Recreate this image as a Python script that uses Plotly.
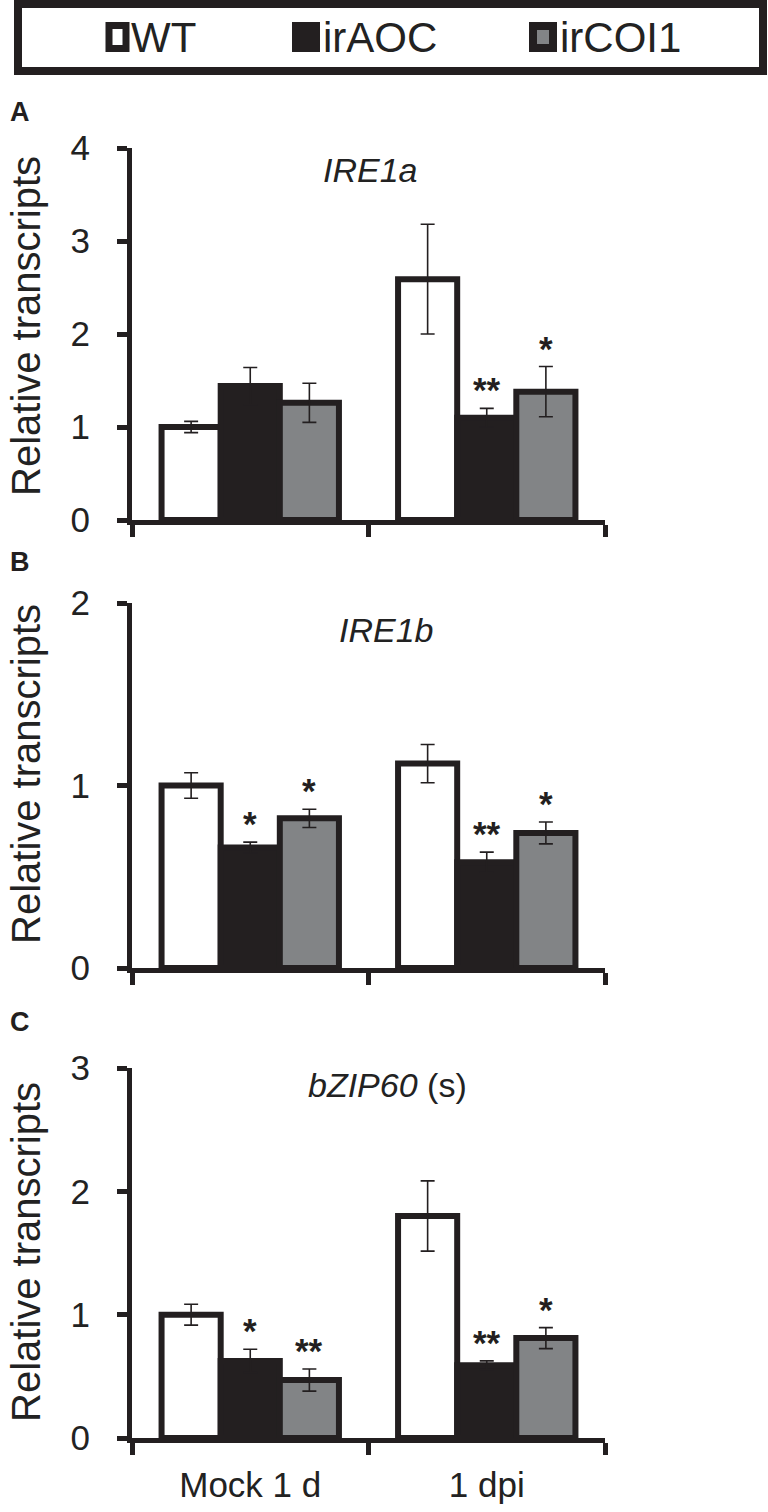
import plotly.graph_objects as go
from plotly.subplots import make_subplots

W, H = 768, 1512

categories = ["Mock 1 d", "1 dpi"]
genotypes = ["WT", "irAOC", "irCOI1"]

# panel A - IRE1a
a_wt = [1.00, 2.59]
a_wt_err = [0.06, 0.59]
a_aoc = [1.44, 1.10]
a_aoc_err = [0.20, 0.10]
a_coi = [1.26, 1.38]
a_coi_err = [0.21, 0.27]
a_stars = [["", "", ""], ["", "**", "*"]]

# panel B - IRE1b
b_wt = [1.00, 1.12]
b_wt_err = [0.07, 0.105]
b_aoc = [0.66, 0.58]
b_aoc_err = [0.03, 0.055]
b_coi = [0.82, 0.74]
b_coi_err = [0.05, 0.06]
b_stars = [["", "*", "*"], ["", "**", "*"]]

# panel C - bZIP60 (s)
c_wt = [1.00, 1.80]
c_wt_err = [0.085, 0.285]
c_aoc = [0.625, 0.59]
c_aoc_err = [0.095, 0.035]
c_coi = [0.47, 0.81]
c_coi_err = [0.09, 0.085]
c_stars = [["", "*", "**"], ["", "**", "*"]]

BLACK = "#231f20"
GRAY = "#828486"
fills = ["white", BLACK, GRAY]
FONT = "Liberation Sans, Arial, sans-serif"


def px(x):
    return x / W


def py(y):
    return 1 - y / H


panels = [
    dict(vals=[a_wt, a_aoc, a_coi], errs=[a_wt_err, a_aoc_err, a_coi_err], stars=a_stars,
         ymax=4, top=148, bot=520, title="<i>IRE1a</i>", tx=370, ty=170, letter="A", ly=112, lab_y=326),
    dict(vals=[b_wt, b_aoc, b_coi], errs=[b_wt_err, b_aoc_err, b_coi_err], stars=b_stars,
         ymax=2, top=603, bot=968, title="<i>IRE1b</i>", tx=386, ty=630, letter="B", ly=562, lab_y=774),
    dict(vals=[c_wt, c_aoc, c_coi], errs=[c_wt_err, c_aoc_err, c_coi_err], stars=c_stars,
         ymax=3, top=1068, bot=1438, title="<i>bZIP60</i> (s)", tx=387, ty=1085, letter="C", ly=1022, lab_y=1252),
]

fig = make_subplots(rows=3, cols=1)
annotations = []
offsets = [-0.25, 0, 0.25]

for r, p in enumerate(panels, start=1):
    for g in range(3):
        fig.add_trace(go.Bar(
            x=categories, y=p["vals"][g], name=genotypes[g],
            marker=dict(color=fills[g], line=dict(color=BLACK, width=6)),
            error_y=dict(type="data", array=p["errs"][g], color=BLACK, thickness=1.6, width=7),
            showlegend=False,
        ), row=r, col=1)
        # significance stars
        for c in range(len(categories)):
            s = p["stars"][c][g]
            if s:
                suffix = "" if r == 1 else str(r)
                annotations.append(dict(
                    x=c + offsets[g], y=p["vals"][g][c] + p["errs"][g][c],
                    xref="x" + suffix, yref="y" + suffix,
                    text="<b>" + s + "</b>", showarrow=False, xanchor="center",
                    yanchor="bottom", yshift=-3,
                    font=dict(size=35, color=BLACK, family=FONT),
                ))
    fig.update_yaxes(
        row=r, col=1, range=[0, p["ymax"]], dtick=1, domain=[py(p["bot"]), py(p["top"])],
        showline=True, linecolor=BLACK, linewidth=5, ticks="outside", ticklen=10,
        tickwidth=5, tickcolor=BLACK, showgrid=False, zeroline=False, automargin=False,
        tickfont=dict(size=35, color="#222", family=FONT), ticklabelstandoff=20,
    )
    fig.update_xaxes(
        row=r, col=1, range=[-0.5, 1.5], domain=[px(132), px(605)],
        showline=True, linecolor=BLACK, linewidth=5, ticks="outside", ticklen=12,
        tickwidth=5, tickcolor=BLACK, tickson="boundaries", showgrid=False, automargin=False,
        showticklabels=(r == 3), tickfont=dict(size=35, color="#222", family=FONT),
        ticklabelstandoff=12,
    )
    annotations.append(dict(x=px(p["tx"]), y=py(p["ty"]), xref="paper", yref="paper",
                            text=p["title"], showarrow=False, xanchor="center", yanchor="middle",
                            font=dict(size=34, color="#222", family=FONT)))
    annotations.append(dict(x=px(20), y=py(p["ly"]), xref="paper", yref="paper",
                            text="<b>" + p["letter"] + "</b>", showarrow=False,
                            xanchor="center", yanchor="middle",
                            font=dict(size=27, color=BLACK, family=FONT)))
    annotations.append(dict(x=px(26), y=py(p["lab_y"]), xref="paper", yref="paper",
                            text="Relative transcripts", textangle=-90, showarrow=False,
                            xanchor="center", yanchor="middle",
                            font=dict(size=40, color="#222", family=FONT)))

# legend box drawn by hand
shapes = [
    dict(type="rect", xref="paper", yref="paper", x0=px(18), x1=px(763), y0=py(71), y1=py(4),
         line=dict(color=BLACK, width=8), fillcolor="white"),
    dict(type="rect", xref="paper", yref="paper", x0=px(109), x1=px(126), y0=py(48.5), y1=py(25.5),
         line=dict(color=BLACK, width=7), fillcolor="white"),
    dict(type="rect", xref="paper", yref="paper", x0=px(293), x1=px(319), y0=py(51), y1=py(23),
         line=dict(color=BLACK, width=2), fillcolor=BLACK),
    dict(type="rect", xref="paper", yref="paper", x0=px(533), x1=px(553), y0=py(48), y1=py(26),
         line=dict(color=BLACK, width=8), fillcolor=GRAY),
]
for name, x0 in zip(genotypes, [129, 321, 558]):
    annotations.append(dict(x=px(x0), y=py(38), xref="paper", yref="paper", text=name,
                            xanchor="left", yanchor="middle", showarrow=False,
                            font=dict(size=42, color="#222", family=FONT)))

fig.update_layout(
    width=W, height=H, margin=dict(l=0, r=0, t=0, b=0, autoexpand=False),
    plot_bgcolor="white", paper_bgcolor="white",
    barmode="group", bargap=0.25, bargroupgap=0,
    annotations=annotations, shapes=shapes,
    font=dict(family=FONT),
)

# drop the browser's default 8px body margin so the figure fills the window
fig.write_html("out.html", config={"displayModeBar": False},
               post_script="document.body.style.margin='0';")
